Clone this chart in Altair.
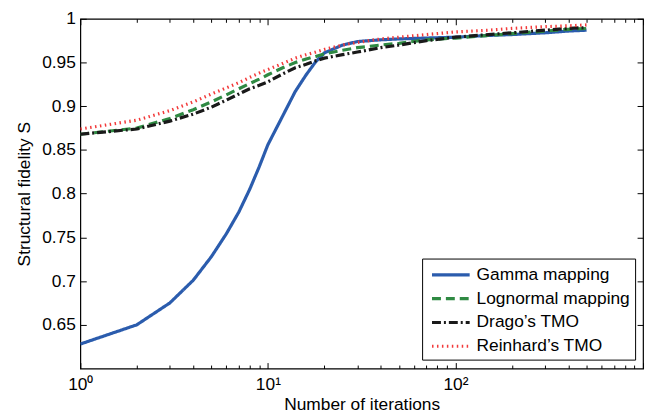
import altair as alt
import pandas as pd

iterations = [1, 2, 3, 4, 5, 6, 7, 8, 9, 10, 12, 14, 16, 18, 20, 25, 30, 40, 50, 70, 100, 150, 200, 300, 400, 500]
gamma = [0.628, 0.650, 0.675, 0.701, 0.728, 0.754, 0.779, 0.805, 0.831, 0.856, 0.889, 0.917, 0.936, 0.951,
         0.961, 0.970, 0.974, 0.976, 0.977, 0.978, 0.979, 0.981, 0.982, 0.984, 0.986, 0.987]
lognormal = [0.868, 0.875, 0.886, 0.896, 0.905, 0.913, 0.920, 0.926, 0.931, 0.936, 0.944, 0.950, 0.954, 0.957,
             0.960, 0.964, 0.967, 0.970, 0.972, 0.976, 0.978, 0.981, 0.983, 0.986, 0.988, 0.989]
drago = [0.868, 0.874, 0.883, 0.891, 0.899, 0.907, 0.914, 0.920, 0.924, 0.928, 0.937, 0.944, 0.948, 0.952,
         0.955, 0.959, 0.962, 0.967, 0.970, 0.975, 0.979, 0.982, 0.984, 0.987, 0.989, 0.990]
reinhard = [0.874, 0.884, 0.895, 0.905, 0.914, 0.921, 0.927, 0.933, 0.938, 0.942, 0.949, 0.955, 0.959, 0.962,
            0.965, 0.970, 0.973, 0.977, 0.979, 0.982, 0.985, 0.987, 0.989, 0.991, 0.992, 0.993]

series_names = ["Gamma mapping", "Lognormal mapping", "Drago\u2019s TMO", "Reinhard\u2019s TMO"]
series_values = [gamma, lognormal, drago, reinhard]
series_colors = ["#2b5cad", "#2f8a43", "#1a1a1a", "#f23a3a"]
series_dash = [[1, 0], [9, 5], [9, 3, 2, 3], [1.5, 3.5]]
series_width = [3.2, 3.2, 3.2, 1.4]

x_major = [1, 10, 100, 1000]
x_minor = [2, 3, 4, 5, 6, 7, 8, 9, 20, 30, 40, 50, 60, 70, 80, 90, 200, 300, 400, 500, 600, 700, 800, 900]
y_ticks = [0.65, 0.7, 0.75, 0.8, 0.85, 0.9, 0.95, 1.0]

rows = []
for name, vals in zip(series_names, series_values):
    for xi, yi in zip(iterations, vals):
        rows.append({"x": xi, "y": yi, "series": name})
df = pd.DataFrame(rows)

W, H = 568, 353
FONT = "Liberation Sans"
FS = 17.5

xscale = alt.Scale(type="log", domain=[1, 1000], nice=False)
yscale = alt.Scale(domain=[0.6, 1.0], nice=False, zero=False)

base = alt.Chart(df)

lines = base.mark_line(strokeCap="butt", clip=True).encode(
    x=alt.X("x:Q", scale=xscale, title="Number of iterations",
            axis=alt.Axis(values=[1, 10, 100], ticks=False, domain=False, grid=False,
                          labelExpr="datum.value == 1 ? '10\u2070' : datum.value == 10 ? '10\u00b9' : '10\u00b2'",
                          labelPadding=7, labelFontSize=FS, labelFont=FONT, labelColor="black",
                          titleFontSize=FS, titleFont=FONT, titleFontWeight="normal", titleColor="black",
                          titlePadding=3, labelFlush=False)),
    y=alt.Y("y:Q", scale=yscale, title="Structural fidelity S",
            axis=alt.Axis(values=y_ticks, ticks=False, domain=False, grid=False, format="~g",
                          labelPadding=5, labelFontSize=FS, labelFont=FONT, labelColor="black",
                          titleFontSize=FS, titleFont=FONT, titleFontWeight="normal", titleColor="black",
                          titlePadding=8)),
    color=alt.Color("series:N", scale=alt.Scale(domain=series_names, range=series_colors), title=None),
    strokeDash=alt.StrokeDash("series:N", scale=alt.Scale(domain=series_names, range=series_dash), title=None),
    strokeWidth=alt.StrokeWidth("series:N", scale=alt.Scale(domain=series_names, range=series_width), title=None),
)

tick_size_x = {"condition": {"test": "indexof([1,10,100,1000], datum.value) >= 0", "value": 6}, "value": 3.5}


def tick_layer(xorient, yorient):
    return base.mark_line(opacity=0).encode(
        x=alt.X("x:Q", scale=xscale, title=None,
                axis=alt.Axis(orient=xorient, offset=-H, values=x_major + x_minor, labels=False, domain=False,
                              grid=False, tickSize=tick_size_x, tickColor="black", tickWidth=1)),
        y=alt.Y("y:Q", scale=yscale, title=None,
                axis=alt.Axis(orient=yorient, offset=-W, values=y_ticks, labels=False, domain=False,
                              grid=False, tickSize=6, tickColor="black", tickWidth=1)),
        detail="series:N",
    )


chart = alt.layer(
    lines,
    tick_layer("top", "right"),
    tick_layer("bottom", "left"),
).resolve_axis(x="independent", y="independent").properties(
    width=W, height=H,
    autosize=alt.AutoSizeParams(type="none"),
    padding={"left": 73, "top": 9, "right": 3, "bottom": 47},
    background="white",
).configure_view(
    stroke="black", strokeWidth=1.2
).configure_legend(
    orient="none", legendX=345, legendY=242,
    strokeColor="black", fillColor="white", padding=5, cornerRadius=0,
    labelFontSize=FS, labelFont=FONT, labelColor="black", labelLimit=400, labelOffset=27,
    symbolType="M-0.684,0H3.316", symbolSize=361, symbolStrokeWidth=3.2, rowPadding=4,
)

chart.save("out.html", embed_options={"renderer": "svg", "actions": False})
